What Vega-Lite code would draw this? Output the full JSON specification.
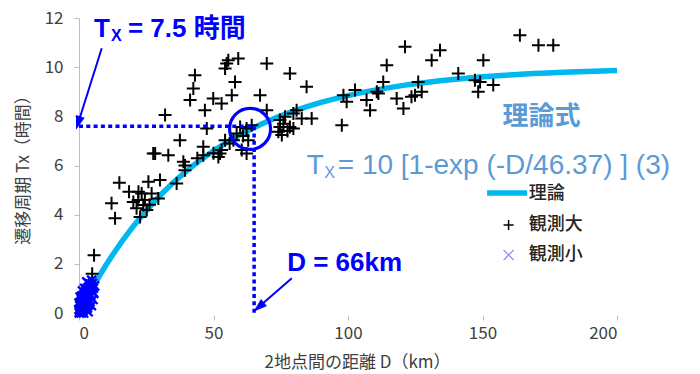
{
  "$schema": "https://vega.github.io/schema/vega-lite/v6.json",
  "width": 538,
  "height": 295,
  "autosize": {"type": "none"},
  "padding": {"left": 79, "top": 18, "right": 83, "bottom": 61},
  "background": "white",
  "config": {"view": {"stroke": null}, "font": "Noto Sans CJK JP"},
  "encoding": {
    "x": {
      "field": "D", "type": "quantitative",
      "scale": {"domain": [0, 200], "nice": false, "zero": true},
      "title": "2地点間の距離 D（km）",
      "axis": {
        "values": [0, 50, 100, 150, 200], "domain": false, "grid": false,
        "tickColor": "#BFBFBF", "tickSize": 5, "offset": 2,
        "labelFont": "Noto Sans CJK JP", "labelFontSize": 17, "labelColor": "#404040", "labelPadding": 5,
        "titleFont": "Noto Sans CJK JP", "titleFontSize": 17, "titleFontWeight": "normal", "titleColor": "#404040",
        "titleX": 278, "titleY": 47, "titleBaseline": "middle"
      }
    },
    "y": {
      "field": "T", "type": "quantitative",
      "scale": {"domain": [0, 12], "nice": false},
      "title": "遷移周期 Tx（時間）",
      "axis": {
        "values": [0, 2, 4, 6, 8, 10, 12], "domain": true, "domainColor": "#BFBFBF", "grid": false,
        "tickColor": "#BFBFBF", "tickSize": 5,
        "labelFont": "Noto Sans CJK JP", "labelFontSize": 17, "labelColor": "#404040", "labelPadding": 11,
        "titleFont": "Noto Sans CJK JP", "titleFontSize": 17, "titleFontWeight": "normal", "titleColor": "#404040",
        "titleX": -56, "titleY": 147.5, "titleBaseline": "middle"
      }
    }
  },
  "layer": [
    {
      "data": {"values": [
        {"D": 0, "T": 0}, {"D": 5, "T": 1.022}, {"D": 10, "T": 1.94}, {"D": 20, "T": 3.503},
        {"D": 30, "T": 4.764}, {"D": 40, "T": 5.78}, {"D": 50, "T": 6.598}, {"D": 60, "T": 7.258},
        {"D": 70, "T": 7.79}, {"D": 80, "T": 8.219}, {"D": 90, "T": 8.564}, {"D": 100, "T": 8.843},
        {"D": 120, "T": 9.248}, {"D": 140, "T": 9.512}, {"D": 160, "T": 9.683}, {"D": 180, "T": 9.794},
        {"D": 200, "T": 9.866}
      ]},
      "mark": {"type": "line", "color": "#00B8F0", "strokeWidth": 5.5, "interpolate": "monotone"}
    },
    {
      "data": {"values": [
        {"D": 5.6, "T": 2.35}, {"D": 4.9, "T": 1.6},
        {"D": 15.0, "T": 5.3}, {"D": 18.6, "T": 4.93}, {"D": 22.1, "T": 4.93}, {"D": 23.3, "T": 4.86},
        {"D": 25.8, "T": 5.34}, {"D": 30.1, "T": 5.41}, {"D": 27.0, "T": 4.86}, {"D": 29.5, "T": 4.66},
        {"D": 20.2, "T": 4.52}, {"D": 23.9, "T": 4.39}, {"D": 21.4, "T": 4.26}, {"D": 25.2, "T": 4.19},
        {"D": 22.7, "T": 3.91}, {"D": 12.1, "T": 4.46}, {"D": 13.4, "T": 3.85}, {"D": 28.3, "T": 6.49},
        {"D": 33.2, "T": 6.42}, {"D": 38.8, "T": 6.15}, {"D": 39.4, "T": 5.81}, {"D": 36.3, "T": 5.27},
        {"D": 24.5, "T": 4.6}, {"D": 26.2, "T": 4.4}, {"D": 22.0, "T": 4.6}, {"D": 39.4, "T": 6.0},
        {"D": 55.5, "T": 10.28}, {"D": 59.2, "T": 10.35}, {"D": 54.9, "T": 10.15}, {"D": 54.3, "T": 9.95},
        {"D": 69.8, "T": 10.15}, {"D": 43.1, "T": 9.67}, {"D": 58.0, "T": 9.4}, {"D": 42.5, "T": 9.13},
        {"D": 41.3, "T": 8.66}, {"D": 49.9, "T": 8.73}, {"D": 53.0, "T": 8.52}, {"D": 56.8, "T": 8.86},
        {"D": 46.8, "T": 8.25}, {"D": 67.3, "T": 8.86}, {"D": 69.8, "T": 8.25}, {"D": 32.0, "T": 8.05},
        {"D": 47.5, "T": 7.51}, {"D": 37.5, "T": 7.03}, {"D": 46.2, "T": 6.76}, {"D": 46.2, "T": 6.42},
        {"D": 53.0, "T": 6.63}, {"D": 51.8, "T": 6.35}, {"D": 54.3, "T": 7.03}, {"D": 59.9, "T": 7.57},
        {"D": 64.2, "T": 7.64}, {"D": 58.6, "T": 7.3}, {"D": 62.9, "T": 7.03}, {"D": 60.5, "T": 6.63},
        {"D": 62.3, "T": 6.49}, {"D": 27.6, "T": 6.49}, {"D": 52.4, "T": 6.49}, {"D": 57.4, "T": 7.03},
        {"D": 62.3, "T": 7.51}, {"D": 61.0, "T": 7.2}, {"D": 56.0, "T": 6.9}, {"D": 50.0, "T": 6.5},
        {"D": 44.0, "T": 6.3},
        {"D": 78.4, "T": 9.74}, {"D": 84.6, "T": 9.2}, {"D": 98.3, "T": 8.86}, {"D": 102.6, "T": 9.07},
        {"D": 99.5, "T": 8.59}, {"D": 106.9, "T": 8.66}, {"D": 108.2, "T": 8.25}, {"D": 110.7, "T": 9.0},
        {"D": 113.1, "T": 9.4}, {"D": 114.4, "T": 10.08}, {"D": 97.7, "T": 7.64}, {"D": 80.9, "T": 8.25},
        {"D": 76.6, "T": 7.98}, {"D": 82.8, "T": 7.91}, {"D": 86.5, "T": 7.91}, {"D": 78.4, "T": 7.57},
        {"D": 74.7, "T": 7.57}, {"D": 74.1, "T": 7.37}, {"D": 75.4, "T": 7.24}, {"D": 79.7, "T": 7.51},
        {"D": 74.7, "T": 7.85}, {"D": 79.7, "T": 8.12}, {"D": 76.0, "T": 7.7}, {"D": 77.5, "T": 7.4},
        {"D": 111.3, "T": 8.93},
        {"D": 121.2, "T": 10.83}, {"D": 134.2, "T": 10.69}, {"D": 131.1, "T": 10.28}, {"D": 150.3, "T": 10.28},
        {"D": 141.0, "T": 9.74}, {"D": 126.1, "T": 9.4}, {"D": 147.2, "T": 9.47}, {"D": 149.1, "T": 9.4},
        {"D": 154.0, "T": 9.27}, {"D": 148.4, "T": 9.0}, {"D": 118.1, "T": 8.73}, {"D": 123.6, "T": 8.8},
        {"D": 124.9, "T": 8.86}, {"D": 127.4, "T": 9.0}, {"D": 120.6, "T": 8.32}, {"D": 163.9, "T": 11.3},
        {"D": 170.8, "T": 10.89}, {"D": 176.3, "T": 10.89}
      ]},
      "mark": {"type": "point", "shape": "M-1,0H1M0,-1V1", "size": 169, "strokeWidth": 2, "color": "black", "filled": false, "opacity": 1}
    },
    {
      "data": {"values": [
        {"D": 0.2, "T": 0.05}, {"D": 0.5, "T": 0.1}, {"D": 0.8, "T": 0.0}, {"D": 1.0, "T": 0.2},
        {"D": 0.3, "T": 0.3}, {"D": 1.2, "T": 0.35}, {"D": 1.5, "T": 0.1}, {"D": 1.8, "T": 0.3},
        {"D": 2.0, "T": 0.5}, {"D": 0.6, "T": 0.45}, {"D": 2.2, "T": 0.2}, {"D": 2.5, "T": 0.6},
        {"D": 2.8, "T": 0.4}, {"D": 3.0, "T": 0.7}, {"D": 1.4, "T": 0.6}, {"D": 3.2, "T": 0.9},
        {"D": 3.5, "T": 0.5}, {"D": 3.8, "T": 0.8}, {"D": 4.0, "T": 1.0}, {"D": 2.4, "T": 0.85},
        {"D": 4.3, "T": 0.7}, {"D": 4.5, "T": 1.1}, {"D": 4.8, "T": 0.9}, {"D": 5.0, "T": 1.2},
        {"D": 3.6, "T": 1.05}, {"D": 5.3, "T": 1.0}, {"D": 2.9, "T": 1.27}, {"D": 4.7, "T": 1.34},
        {"D": 1.1, "T": 0.7}, {"D": 0.0, "T": 0.15}, {"D": 0.1, "T": 0.0}, {"D": 1.7, "T": 0.0},
        {"D": 2.6, "T": 0.15}, {"D": 3.3, "T": 0.3}, {"D": 4.1, "T": 0.45}, {"D": 5.5, "T": 0.8},
        {"D": 3.9, "T": 1.2}, {"D": 1.9, "T": 0.75}, {"D": 2.1, "T": 1.0}, {"D": 0.9, "T": 0.55},
        {"D": 3.4, "T": 0.05}, {"D": 4.6, "T": 0.3}, {"D": 5.8, "T": 1.1}, {"D": 1.3, "T": 0.9},
        {"D": 2.7, "T": 0.95}, {"D": 3.1, "T": 0.2}, {"D": 0.4, "T": 0.65}, {"D": 5.2, "T": 0.55},
        {"D": 0.0, "T": 0.4}, {"D": 0.7, "T": 0.25}, {"D": 1.6, "T": 0.45}, {"D": 2.3, "T": 0.35}
      ]},
      "mark": {"type": "point", "shape": "M-1,-1L1,1M-1,1L1,-1", "size": 81, "strokeWidth": 2.4, "color": "#0000FF", "filled": false, "opacity": 1}
    },
    {
      "data": {"values": [
        {"D": 0, "T": 7.6, "D2": 65.1, "T2": 7.6},
        {"D": 65.1, "T": 7.6, "D2": 65.1, "T2": 0}
      ]},
      "mark": {"type": "rule", "color": "#0000FF", "strokeWidth": 3.5, "strokeDash": [4, 3.3]},
      "encoding": {"x2": {"field": "D2"}, "y2": {"field": "T2"}}
    },
    {
      "data": {"values": [{"D": 63.6, "T": 7.49}]},
      "mark": {"type": "point", "shape": "circle", "size": 1681, "filled": false, "strokeWidth": 3.2, "color": "#0000FF", "opacity": 1}
    },
    {
      "data": {"values": [
        {"D": 8.45, "T": 10.77, "D2": -0.3, "T2": 7.73},
        {"D": 79.1, "T": 1.41, "D2": 66.8, "T2": 0.24}
      ]},
      "mark": {"type": "rule", "color": "#0000FF", "strokeWidth": 2},
      "encoding": {"x2": {"field": "D2"}, "y2": {"field": "T2"}}
    },
    {
      "data": {"values": [{"D": -0.3, "T": 7.73}]},
      "mark": {"type": "point", "shape": "M0,-1L0.65,1L-0.65,1Z", "size": 196, "filled": true, "color": "#0000FF", "opacity": 1, "angle": 198}
    },
    {
      "data": {"values": [{"D": 66.8, "T": 0.24}]},
      "mark": {"type": "point", "shape": "M0,-1L0.65,1L-0.65,1Z", "size": 196, "filled": true, "color": "#0000FF", "opacity": 1, "angle": 229}
    },
    {
      "data": {"values": [
        {"D": 5.58, "T": 11.57, "label": "T"},
        {"D": 18.2, "T": 11.57, "label": "= 7.5 時間"},
        {"D": 77.4, "T": 2.03, "label": "D = 66km"}
      ]},
      "mark": {"type": "text", "align": "left", "baseline": "middle", "font": "Liberation Sans, Noto Sans CJK JP", "fontSize": 26, "fontWeight": "bold", "color": "#0000FF"},
      "encoding": {"text": {"field": "label"}}
    },
    {
      "data": {"values": [{"D": 11.9, "T": 11.27, "label": "X"}]},
      "mark": {"type": "text", "align": "left", "baseline": "middle", "font": "Liberation Sans", "fontSize": 16, "fontWeight": "bold", "color": "#0000FF"},
      "encoding": {"text": {"field": "label"}}
    },
    {
      "data": {"values": [{"D": 157.4, "T": 7.97, "label": "理論式"}]},
      "mark": {"type": "text", "align": "left", "baseline": "middle", "font": "Noto Sans CJK JP", "fontSize": 26, "fontWeight": "bold", "color": "#5B9BD5"},
      "encoding": {"text": {"field": "label"}}
    },
    {
      "data": {"values": [
        {"D": 84.7, "T": 6.0, "label": "T"},
        {"D": 96.2, "T": 6.0, "label": "= 10 [1-exp (-D/46.37) ] (3)"}
      ]},
      "mark": {"type": "text", "align": "left", "baseline": "middle", "font": "Liberation Sans", "fontSize": 28, "color": "#5B9BD5"},
      "encoding": {"text": {"field": "label"}}
    },
    {
      "data": {"values": [{"D": 91.2, "T": 5.7, "label": "X"}]},
      "mark": {"type": "text", "align": "left", "baseline": "middle", "font": "Liberation Sans", "fontSize": 16, "color": "#5B9BD5"},
      "encoding": {"text": {"field": "label"}}
    },
    {
      "data": {"values": [{"D": 151.7, "T": 4.88}, {"D": 166.6, "T": 4.88}]},
      "mark": {"type": "line", "color": "#00B8F0", "strokeWidth": 5.5}
    },
    {
      "data": {"values": [{"D": 159.7, "T": 3.58}]},
      "mark": {"type": "point", "shape": "M-1,0H1M0,-1V1", "size": 100, "strokeWidth": 1.5, "color": "black", "filled": false, "opacity": 1}
    },
    {
      "data": {"values": [{"D": 159.7, "T": 2.36}]},
      "mark": {"type": "point", "shape": "M-1,-1L1,1M-1,1L1,-1", "size": 100, "strokeWidth": 1.3, "color": "#8F8FFF", "filled": false, "opacity": 1}
    },
    {
      "data": {"values": [
        {"D": 167.2, "T": 4.86, "label": "理論"},
        {"D": 167.2, "T": 3.56, "label": "観測大"},
        {"D": 167.2, "T": 2.34, "label": "観測小"}
      ]},
      "mark": {"type": "text", "align": "left", "baseline": "middle", "font": "Noto Sans CJK JP", "fontSize": 18, "fontWeight": 500, "color": "#262626"},
      "encoding": {"text": {"field": "label"}}
    }
  ]
}
